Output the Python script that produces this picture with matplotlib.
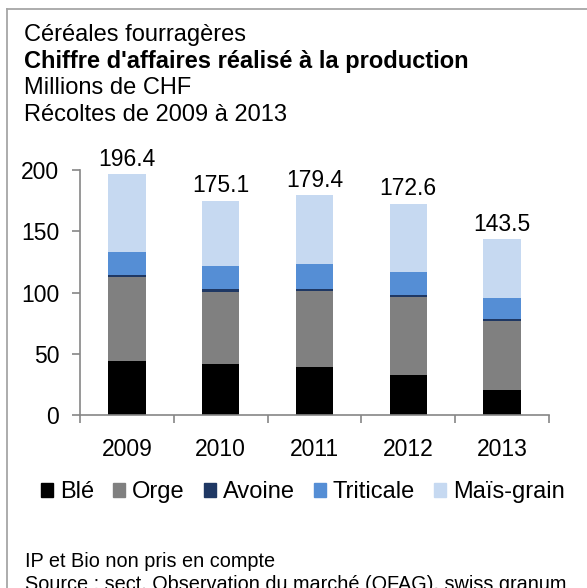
import matplotlib
matplotlib.use('Agg')
import matplotlib.pyplot as plt
from matplotlib.lines import Line2D
from matplotlib.patches import Patch
import numpy as np

plt.rcParams['font.family'] = ['Liberation Sans', 'DejaVu Sans']

years = ['2009', '2010', '2011', '2012', '2013']
series = ['Blé', 'Orge', 'Avoine', 'Triticale', 'Maïs-grain']
ble = [44.5, 41.6, 39.4, 32.6, 20.4]
orge = [68.0, 59.2, 61.9, 63.8, 56.7]
avoine = [1.9, 2.2, 1.9, 1.9, 1.7]
triticale = [18.5, 19.0, 20.1, 18.5, 17.1]
mais = [63.5, 53.1, 56.1, 55.8, 47.6]
totals = [196.4, 175.1, 179.4, 172.6, 143.5]
colors = ['#000000', '#808080', '#1f3864', '#558ed5', '#c6d9f1']

W, H = 587, 588
fs = 16.5
fig = plt.figure(figsize=(W / 100, H / 100), dpi=100)
ax = fig.add_axes([80 / W, 1 - 415.3 / H, (549 - 80) / W, (415.3 - 170) / H])

x = np.arange(len(years))
bottom = np.zeros(len(years))
for vals, col in zip([ble, orge, avoine, triticale, mais], colors):
    ax.bar(x, vals, 0.4, bottom=bottom, color=col, linewidth=0)
    bottom += np.array(vals)

# totals above the stacks
for xi, tot, top in zip(x, totals, bottom):
    ax.annotate(f'{tot:.1f}', (xi, top), xytext=(0, 6.3), textcoords='offset points',
                ha='center', va='baseline', fontsize=fs)

ax.set_xlim(-0.5, 4.5)
ax.set_ylim(0, 200)
ax.set_yticks([0, 50, 100, 150, 200])
ax.set_xticks(x)
ax.set_xticklabels(years)
ax.set_xticks(np.arange(-0.5, 5, 1), minor=True)
for s in ['top', 'right']:
    ax.spines[s].set_visible(False)
for s in ['left', 'bottom']:
    ax.spines[s].set_color('#868686')
    ax.spines[s].set_linewidth(1.2)
ax.tick_params(axis='y', direction='out', length=6, width=1.2, color='#868686',
               labelsize=fs, pad=9)
ax.tick_params(axis='x', which='major', length=0, labelsize=fs, pad=16)
ax.tick_params(axis='x', which='minor', direction='out', length=6, width=1.2, color='#868686')

lfs = 17
handles = [Patch(color=c, label=s) for c, s in zip(colors, series)]
fig.legend(handles=handles, loc='center', bbox_to_anchor=(302.7 / W, 1 - 492 / H), ncol=5,
           frameon=False, fontsize=lfs, handlelength=0.53, handleheight=0.53,
           handletextpad=0.28, columnspacing=0.8, borderpad=0)

# title block
tfs = 17
fig.text(24 / W, 1 - 41 / H, 'Céréales fourragères', fontsize=tfs, va='baseline')
fig.text(24 / W, 1 - 68 / H, "Chiffre d'affaires réalisé à la production", fontsize=tfs,
         fontweight='bold', va='baseline')
fig.text(24 / W, 1 - 94.5 / H, 'Millions de CHF', fontsize=tfs, va='baseline')
fig.text(24 / W, 1 - 121 / H, 'Récoltes de 2009 à 2013', fontsize=tfs, va='baseline')

# footnotes
fig.text(25 / W, 1 - 566.7 / H, 'IP et Bio non pris en compte', fontsize=14.3, va='baseline')
fig.text(25 / W, 1 - 589.5 / H, 'Source : sect. Observation du marché (OFAG), swiss granum',
         fontsize=14.3, va='baseline')

# outer frame, cut at right and bottom like the source image
fc = '#a6a6a6'
fig.add_artist(Line2D([7 / W, 1], [1 - 9 / H, 1 - 9 / H], color=fc, linewidth=1.3))
fig.add_artist(Line2D([7 / W, 7 / W], [0, 1 - 9 / H], color=fc, linewidth=1.3))

fig.savefig('out.png', dpi=100)
